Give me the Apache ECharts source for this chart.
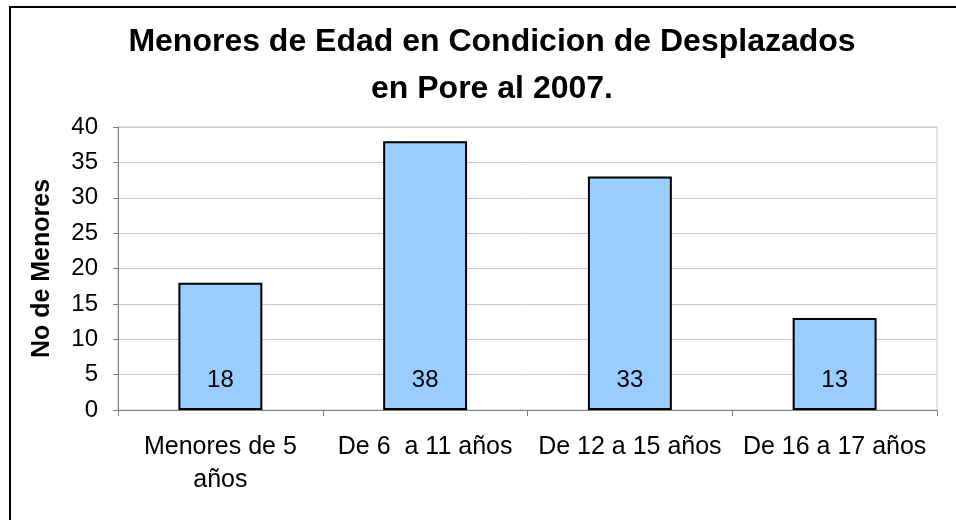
<!DOCTYPE html>
<html>
<head>
<meta charset="utf-8">
<script src="https://cdn.jsdelivr.net/npm/echarts@6/dist/echarts.min.js"></script>
<style>
  html, body { margin: 0; padding: 0; background: #ffffff; }
  #chart { width: 956px; height: 520px; }
</style>
</head>
<body>
<div id="chart"></div>
<script>
// Age groups of displaced minors in Pore, 2007
const categories = ['Menores de 5\naños', 'De 6  a 11 años', 'De 12 a 15 años', 'De 16 a 17 años'];
const counts = [18, 38, 33, 13];
const yTicks = { min: 0, max: 40, interval: 5 };

const FONT = 'Liberation Sans, Arial, sans-serif';
const chart = echarts.init(document.getElementById('chart'), null, { renderer: 'canvas' });

chart.setOption({
  backgroundColor: '#ffffff',
  animation: false,
  graphic: [{
    type: 'rect',
    shape: { x: 10, y: 7, width: 1000, height: 600 },
    style: { fill: 'none', stroke: '#000000', lineWidth: 2 },
    silent: true
  }],
  title: {
    text: 'Menores de Edad en Condicion de Desplazados\nen Pore al 2007.',
    left: 487,
    top: 14,
    textAlign: 'center',
    textStyle: {
      fontFamily: FONT,
      fontWeight: 'bold',
      fontSize: 32,
      lineHeight: 47,
      color: '#000000'
    }
  },
  grid: {
    left: 118, right: 19, top: 127, bottom: 110,
    show: true,
    borderColor: '#c8c8c8',
    borderWidth: 1
  },
  xAxis: {
    type: 'category',
    data: categories,
    axisLine: { lineStyle: { color: '#808080', width: 1 } },
    axisTick: { show: true, alignWithLabel: false, length: 6, lineStyle: { color: '#808080' } },
    axisLabel: {
      interval: 0,
      margin: 21,
      fontFamily: FONT,
      fontSize: 25,
      lineHeight: 33,
      color: '#000000'
    }
  },
  yAxis: {
    type: 'value',
    min: yTicks.min,
    max: yTicks.max,
    interval: yTicks.interval,
    name: 'No de Menores',
    nameLocation: 'middle',
    nameGap: 63,
    nameRotate: 90,
    nameTextStyle: {
      fontFamily: FONT,
      fontWeight: 'bold',
      fontSize: 25,
      color: '#000000'
    },
    axisLine: { show: true, lineStyle: { color: '#808080', width: 1 } },
    axisTick: { show: true, length: 5, lineStyle: { color: '#808080' } },
    axisLabel: {
      margin: 20,
      fontFamily: FONT,
      fontSize: 24,
      color: '#000000'
    },
    splitLine: { show: true, lineStyle: { color: '#c8c8c8', width: 1 } }
  },
  series: [{
    type: 'bar',
    data: counts,
    barWidth: '41%',
    itemStyle: { color: '#99ccff', borderColor: '#000000', borderWidth: 2 },
    label: {
      show: true,
      position: 'insideBottom',
      distance: 18,
      fontFamily: FONT,
      fontSize: 24,
      color: '#000000'
    }
  }]
});
</script>
</body>
</html>
